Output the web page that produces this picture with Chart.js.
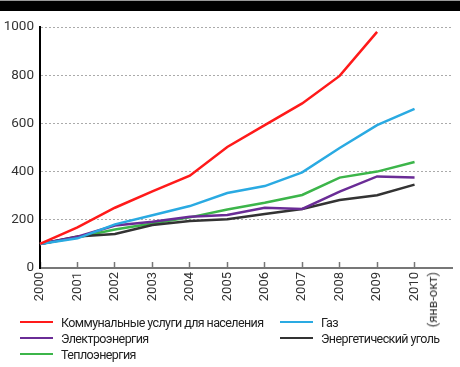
<!DOCTYPE html>
<html><head><meta charset="utf-8">
<script src="https://cdn.jsdelivr.net/npm/chart.js@4.4.1/dist/chart.umd.min.js"></script>
<style>
html,body{margin:0;padding:0;background:#fff;width:460px;height:367px;overflow:hidden;position:relative;font-family:Roboto,sans-serif;}
#topbar{position:absolute;left:0;top:0;width:460px;height:11px;background:#000;border-top:1px solid #999;box-sizing:border-box;}
#c{position:absolute;left:0;top:0;}
#legend{position:absolute;left:20px;top:314px;display:grid;grid-template-columns:260px 180px;grid-auto-rows:16px;font-size:12.5px;color:#222;}
#legend .it{display:flex;align-items:center;white-space:nowrap;}
#legend .ln{width:33px;height:2px;margin-right:8px;flex:none;}
#legend .tx{letter-spacing:-0.6px;}
#note{position:absolute;top:272px;font-size:13px;line-height:16px;color:#333;writing-mode:vertical-rl;transform:rotate(180deg);white-space:nowrap;}
</style></head>
<body>
<div id="topbar"></div>
<canvas id="c" width="460" height="367"></canvas>
<div id="legend"></div>
<div id="note"></div>
<script>
const years = ['2000','2001','2002','2003','2004','2005','2006','2007','2008','2009','2010'];
const tickLabels = ['2000','2001','2002','2003','2004','2005','2006','2007','2008','2009','2010'];
const lastNote = '(янв-окт)';
const yTicks = [0,200,400,600,800,1000];
const seriesNames = ['Коммунальные услуги для населения','Газ','Электроэнергия','Энергетический уголь','Теплоэнергия'];
const communal = [100,169,250,318,383,502,593,683,797,980,null];
const gas      = [100,123,181,219,257,311,340,397,498,593,660];
const electric = [100,130,176,192,213,220,250,245,317,380,376];
const coal     = [100,131,141,178,195,202,224,245,282,302,346];
const heat     = [100,128,160,185,210,243,271,303,375,400,440];
const colors = ['#ff1a1a','#2aaae2','#6a2c96','#333333','#3cb54a'];
const values = [communal, gas, electric, coal, heat];

const datasets = seriesNames.map((n,i)=>({
  label:n, data:values[i], borderColor:colors[i], backgroundColor:colors[i],
  borderWidth:2.5, pointRadius:0, tension:0, fill:false, spanGaps:false
}));

const FONT = 'Roboto, sans-serif';
const notePlugin = {
  id:'notePlugin',
  afterRender(chart){
    const el = document.getElementById('note');
    el.textContent = lastNote;
    const px = chart.scales.x.getPixelForValue(years.length-1);
    el.style.left = (px + 18 - 8) + 'px';
  }
};
const chart = new Chart(document.getElementById('c'), {
  type:'line',
  data:{labels:years.concat(['']), datasets},
  plugins:[notePlugin],
  options:{
    responsive:false, animation:false, devicePixelRatio:1,
    layout:{padding:{top:27,right:8,bottom:59,left:0}},
    plugins:{legend:{display:false}, tooltip:{enabled:false}},
    scales:{
      x:{
        type:'category', offset:false,
        grid:{display:true, drawOnChartArea:false, drawTicks:true, tickLength:-6,
              tickColor:(ctx)=> ctx.index===years.length ? 'rgba(0,0,0,0)' : '#777', tickWidth:1.5},
        border:{display:true, color:'#777', width:2},
        ticks:{autoSkip:false, minRotation:90, maxRotation:90, padding:10, color:'#333',
               font:{family:FONT, size:13},
               callback:(v,i)=> i<tickLabels.length ? tickLabels[i] : ''},
        afterFit:(s)=>{s.height=40; s.paddingLeft=0; s.paddingRight=0;}
      },
      y:{
        min:0, max:1000,
        afterBuildTicks:(s)=>{s.ticks = yTicks.map(v=>({value:v}));},
        grid:{color:(ctx)=> ctx.tick && ctx.tick.value===0 ? 'rgba(0,0,0,0)' : '#aaa', lineWidth:1, drawTicks:false},
        border:{display:true, color:'#000', width:2, dash:[2,2]},
        ticks:{padding:6, color:'#333', font:{family:FONT, size:13.5}, callback:(v)=>String(v)},
        afterFit:(s)=>{s.width=40;}
      }
    }
  }
});

const lg = document.getElementById('legend');
chart.data.datasets.forEach(ds=>{
  const it=document.createElement('div'); it.className='it';
  const ln=document.createElement('span'); ln.className='ln'; ln.style.background=ds.borderColor;
  const tx=document.createElement('span'); tx.className='tx'; tx.textContent=ds.label;
  it.appendChild(ln); it.appendChild(tx); lg.appendChild(it);
});
</script>
</body></html>
